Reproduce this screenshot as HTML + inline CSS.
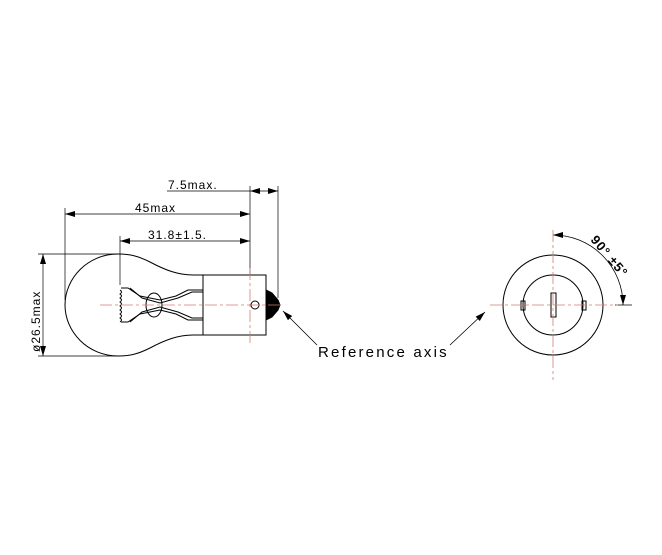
<!DOCTYPE html>
<html><head><style>body{margin:0;background:#fff}svg{display:block}</style></head><body>
<svg width="662" height="555" viewBox="0 0 662 555" xmlns="http://www.w3.org/2000/svg" font-family="Liberation Sans, sans-serif">
<defs><marker id="a" viewBox="0 0 10 6" refX="10" refY="3" markerWidth="10" markerHeight="6" orient="auto-start-reverse" markerUnits="userSpaceOnUse"><path d="M0,0L10,3L0,6z" fill="#000"/></marker></defs>
<g stroke="#000" stroke-width="1" fill="none">
<path d="M203,275 L193,275 C178,275 165,270 150,262 C138,256 130,254 118,254 C88,254 65,278 65,305 C65,332 88,356 118,356 C130,356 138,354 150,348 C165,340 178,335 193,335 L203,335"/>
<rect x="203" y="275" width="63" height="60"/>
<circle cx="255" cy="305" r="4"/>
<path d="M266,290 L272,293 L278,300 L280,305 L278,310 L272,317 L266,320z" fill="#000"/>
<path d="M121,288 L128,288 L140,296 L160,300 L176,296 L188,290 L203,290"/>
<path d="M121,322 L128,322 L140,314 L160,310 L176,314 L188,320 L203,320"/>
<path d="M130,288 L142,298 L160,303 L178,298 L192,292 L203,292"/>
<path d="M130,322 L142,312 L160,307 L178,312 L192,318 L203,318"/>
<ellipse cx="154" cy="305" rx="8" ry="12"/>
<path d="M120,290 q3,2 0,4 q3,2 0,4 q3,2 0,4 q3,2 0,4 q3,2 0,4 q3,2 0,4 q3,2 0,4 q3,2 0,4"/>
<line x1="65" y1="208" x2="65" y2="300" stroke-width="0.7"/>
<line x1="120" y1="236" x2="120" y2="285" stroke-width="0.7"/>
<line x1="250" y1="186" x2="250" y2="275" stroke-width="0.7"/>
<line x1="278" y1="186" x2="278" y2="298" stroke-width="0.7"/>
<line x1="38" y1="254" x2="120" y2="254" stroke-width="0.7"/>
<line x1="38" y1="356" x2="120" y2="356" stroke-width="0.7"/>
<line x1="167" y1="191" x2="250" y2="191" stroke-width="0.7"/>
<line x1="250" y1="191" x2="278" y2="191" marker-start="url(#a)" marker-end="url(#a)" stroke-width="0.7"/>
<line x1="65" y1="214" x2="250" y2="214" marker-start="url(#a)" marker-end="url(#a)" stroke-width="0.7"/>
<line x1="120" y1="241" x2="250" y2="241" marker-start="url(#a)" marker-end="url(#a)" stroke-width="0.7"/>
<line x1="43" y1="254" x2="43" y2="356" marker-start="url(#a)" marker-end="url(#a)" stroke-width="0.7"/>
<line x1="317" y1="345" x2="283" y2="311" marker-end="url(#a)" stroke-width="0.8"/>
<line x1="450" y1="345" x2="485" y2="312" marker-end="url(#a)" stroke-width="0.8"/>
<circle cx="553" cy="305" r="50"/>
<circle cx="553" cy="305" r="30"/>
<rect x="521" y="301" width="4" height="9"/>
<rect x="582" y="301" width="4" height="9"/>
<rect x="551" y="293" width="5" height="24"/>
<path d="M553,235 A70,70 0 0 1 623,305" marker-start="url(#a)" marker-end="url(#a)" stroke-width="0.8"/>
<line x1="615" y1="305" x2="632" y2="305" stroke-width="0.7"/>
</g>
<g stroke="#d08070" stroke-width="0.8" stroke-dasharray="12,3,3,3" fill="none">
<line x1="100" y1="305" x2="282" y2="305"/>
<line x1="250" y1="268" x2="250" y2="345"/>
<line x1="490" y1="305" x2="618" y2="305"/>
<line x1="553" y1="230" x2="553" y2="380"/>
</g>
<g font-size="12" fill="#000" letter-spacing="1">
<text x="168" y="189">7.5max.</text>
<text x="135" y="212">45max</text>
<text x="148" y="239">31.8±1.5.</text>
<text transform="translate(40,352) rotate(-90)">ø26.5max</text>
<text x="318" y="357" font-size="15" letter-spacing="2.2">Reference axis</text>
<text transform="translate(590,240) rotate(50)" font-size="13" font-weight="bold">90° ±5°</text>
</g>
</svg>
</body></html>
